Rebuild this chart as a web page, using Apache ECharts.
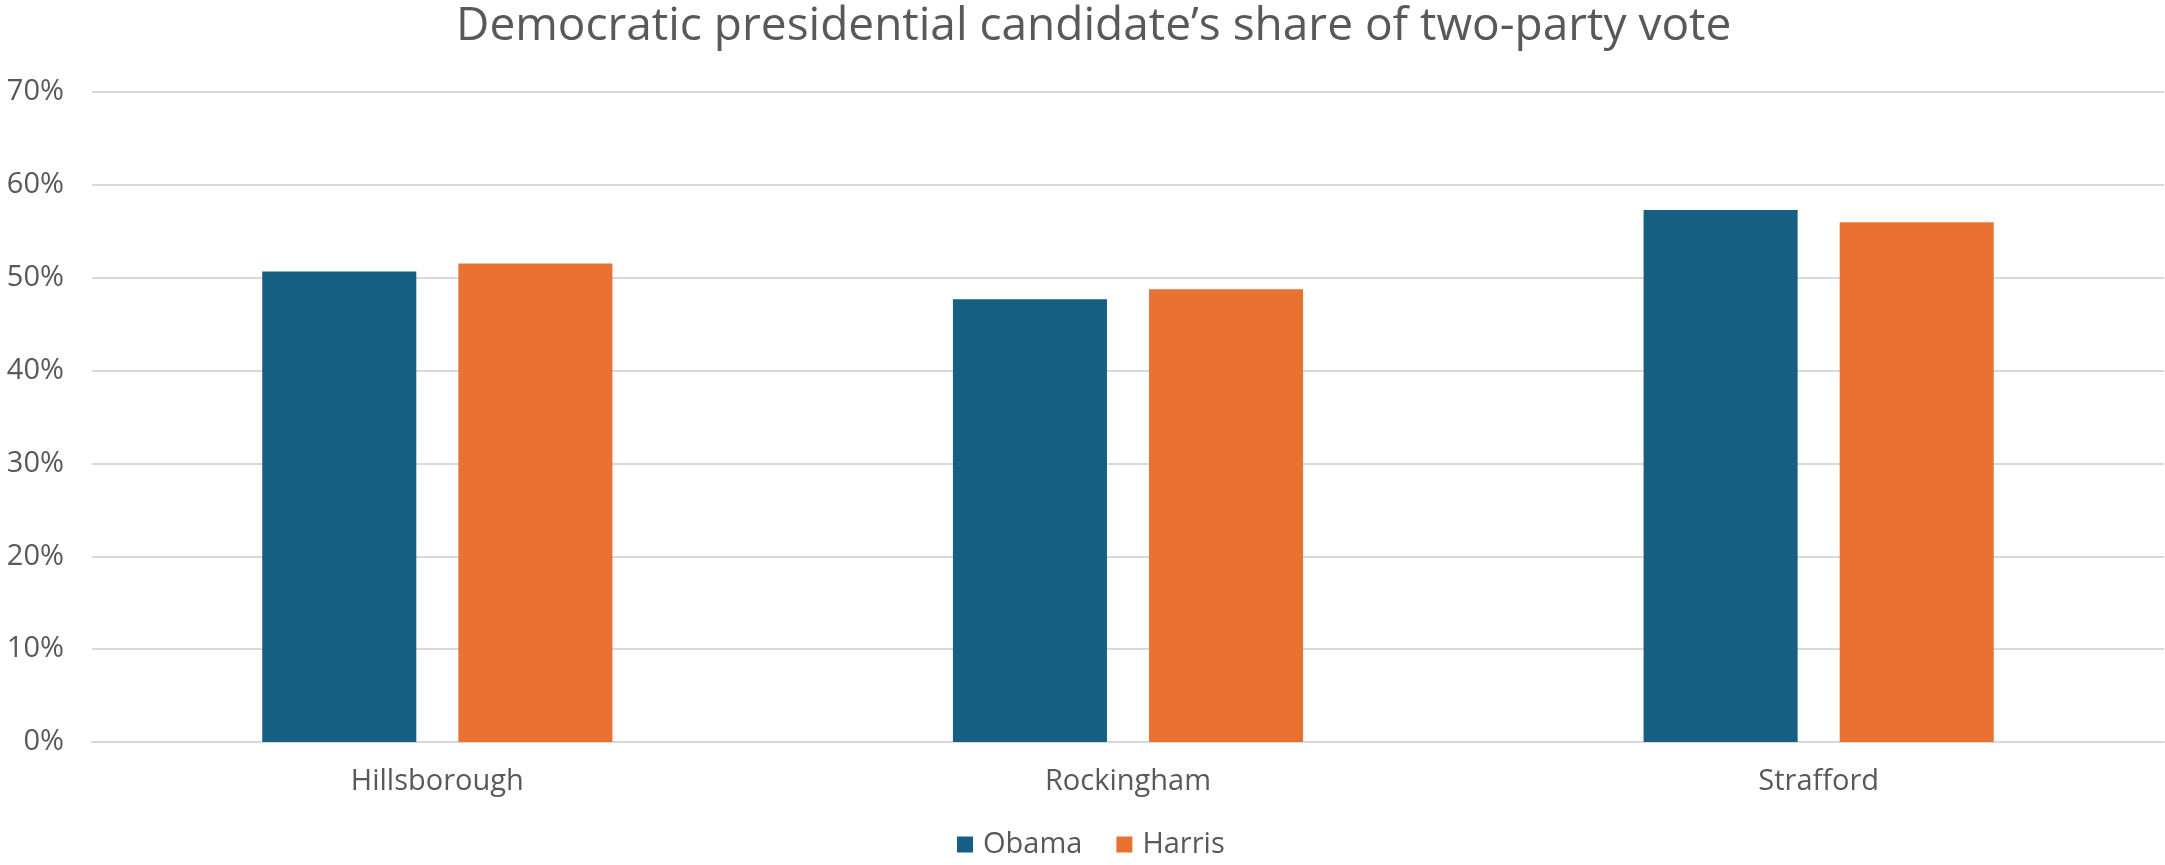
<!DOCTYPE html>
<html>
<head>
<meta charset="utf-8">
<script src="https://cdn.jsdelivr.net/npm/echarts@6/dist/echarts.min.js"></script>
<style>
html,body{margin:0;padding:0;background:#fff;}
#chart{width:2165px;height:865px;}
</style>
</head>
<body>
<div id="chart"></div>
<script>
const titleText = "Democratic presidential candidate\u2019s share of two-party vote";
const categories = ["Hillsborough", "Rockingham", "Strafford"];
const seriesNames = ["Obama", "Harris"];
const obamaValues = [50.67, 47.67, 57.28];
const harrisValues = [51.54, 48.75, 55.98];
const yTicks = [0, 10, 20, 30, 40, 50, 60, 70];

const FONT = "Open Sans";
const TEXT = "#595959";
const chart = echarts.init(document.getElementById('chart'), null, {renderer: 'canvas'});
chart.setOption({
  animation: false,
  backgroundColor: '#ffffff',
  color: ['#156082', '#E97132'],
  title: {
    text: titleText,
    left: 451,
    top: -1,
    textStyle: {fontFamily: FONT, fontSize: 46, fontWeight: 'normal', color: TEXT}
  },
  legend: {
    data: seriesNames,
    bottom: 1,
    left: 952,
    icon: 'rect',
    itemWidth: 16,
    itemHeight: 16,
    itemGap: 34,
    textStyle: {fontFamily: FONT, fontSize: 29, color: TEXT, padding: [0, 0, 0, 5]}
  },
  grid: {left: 92, right: 1, top: 92, bottom: 123, containLabel: false},
  xAxis: {
    type: 'category',
    data: categories,
    axisLine: {show: true, lineStyle: {color: '#D9D9D9', width: 2}},
    axisTick: {show: false},
    axisLabel: {fontFamily: FONT, fontSize: 29, color: TEXT, margin: 25}
  },
  yAxis: {
    type: 'value',
    min: yTicks[0],
    max: yTicks[yTicks.length - 1],
    interval: 10,
    axisLine: {show: false},
    axisTick: {show: false},
    splitLine: {lineStyle: {color: '#D9D9D9', width: 2}},
    axisLabel: {fontFamily: FONT, fontSize: 29, color: TEXT, margin: 28, formatter: '{value}%'}
  },
  series: [
    {name: seriesNames[0], type: 'bar', data: obamaValues, barGap: '27.3%', barCategoryGap: '49.3%'},
    {name: seriesNames[1], type: 'bar', data: harrisValues, barGap: '27.3%', barCategoryGap: '49.3%'}
  ]
});
</script>
</body>
</html>
